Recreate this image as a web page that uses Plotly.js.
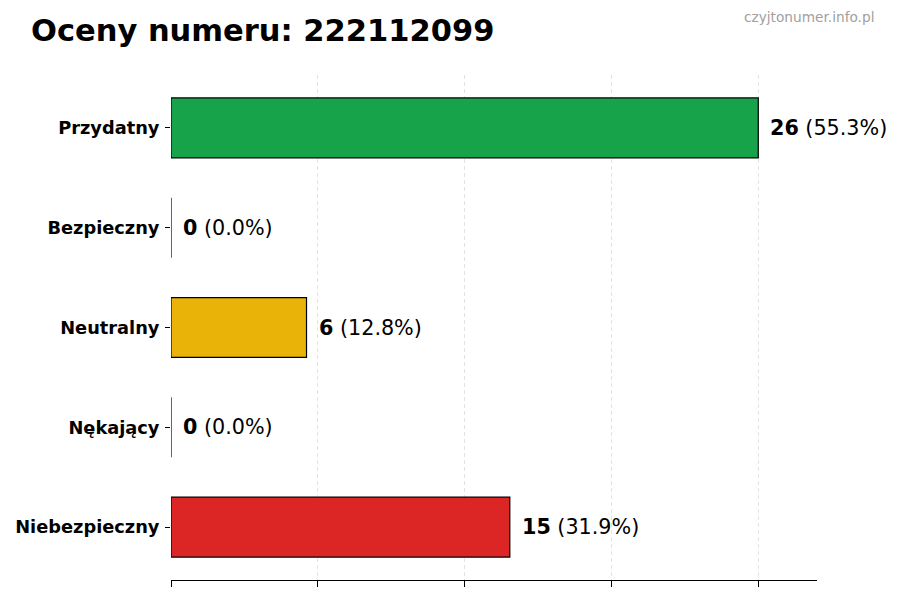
<!DOCTYPE html>
<html>
<head>
<meta charset="utf-8">
<script src="https://cdn.plot.ly/plotly-3.0.1.min.js"></script>
<style>html,body{margin:0;padding:0;background:#fff;}#chart{width:900px;height:600px;}</style>
</head>
<body>
<div id="chart"></div>
<script>
const categories = ["Przydatny", "Bezpieczny", "Neutralny", "Nękający", "Niebezpieczny"];
const counts = [26, 0, 6, 0, 15];
const barColors = ["#17a34a", "#17a34a", "#eab308", "#dc2626", "#dc2626"];
const xTickVals = [0, 6.5, 13, 19.5, 26];
const titleText = "Oceny numeru: 222112099";
const watermark = "czyjtonumer.info.pl";

const total = counts.reduce((a, b) => a + b, 0);
const FONT = "DejaVu Sans, sans-serif";

const trace = {
  type: "bar",
  orientation: "h",
  y: categories,
  x: counts,
  width: 0.6,
  marker: { color: barColors, line: { color: "#000", width: 1.2 } },
  hoverinfo: "skip"
};

const annotations = categories.map((c, i) => ({
  x: counts[i], y: c, xref: "x", yref: "y",
  text: "<b>" + counts[i] + "</b> (" + (counts[i] / total * 100).toFixed(1) + "%)",
  showarrow: false, xanchor: "left", yanchor: "middle", xshift: 10,
  font: { family: FONT, size: 20.7, color: "#000" }
}));
annotations.push({
  xref: "paper", yref: "paper", x: 1.0913, y: 1.1149,
  xanchor: "right", yanchor: "middle", showarrow: false,
  text: watermark, font: { family: FONT, size: 13.7, color: "#a0a0a0" }
});

const layout = {
  width: 900, height: 600,
  paper_bgcolor: "#fff", plot_bgcolor: "#fff",
  margin: { l: 171, r: 83, t: 75, b: 20 },
  showlegend: false,
  title: {
    text: "<b>" + titleText + "</b>",
    x: 31 / 900, xanchor: "left", xref: "container",
    y: 1 - 30 / 600, yanchor: "middle", yref: "container",
    font: { family: FONT, size: 30.5, color: "#000" }
  },
  xaxis: {
    range: [0, 28.6], tickmode: "array", tickvals: xTickVals,
    showticklabels: false, ticks: "outside", ticklen: 6, tickcolor: "#000", tickwidth: 1,
    showline: true, linecolor: "#000", linewidth: 1,
    showgrid: true, gridcolor: "#dcdcdc", griddash: "4px,3px", gridwidth: 0.8,
    zeroline: false, fixedrange: true
  },
  yaxis: {
    type: "category", categoryorder: "array", categoryarray: categories,
    range: [4.53, -0.53],
    ticks: "outside", ticklen: 5, tickcolor: "#000", tickwidth: 1,
    showline: false, showgrid: false, zeroline: false,
    ticklabelstandoff: 2,
    tickfont: { family: FONT, size: 17.8, color: "#000", weight: "bold" },
    fixedrange: true
  },
  annotations: annotations
};

Plotly.newPlot("chart", [trace], layout, { staticPlot: true, displayModeBar: false });
</script>
</body>
</html>
